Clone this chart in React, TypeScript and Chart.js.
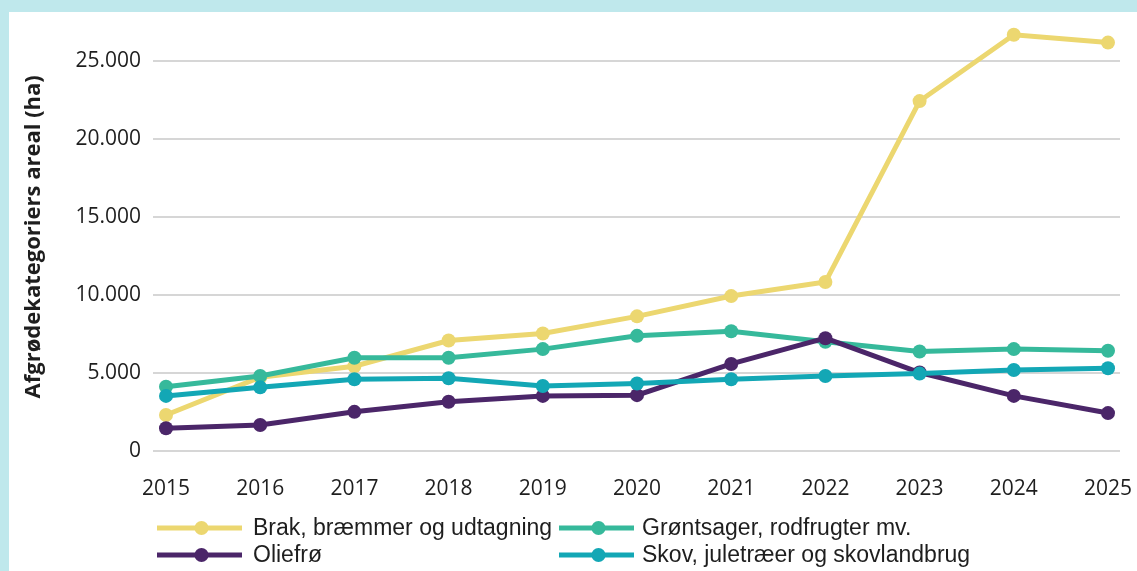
import React, { useEffect, useRef } from "react";
import { Chart, registerables } from "chart.js";

Chart.register(...registerables);

const years = [2015, 2016, 2017, 2018, 2019, 2020, 2021, 2022, 2023, 2024, 2025];
const brak = [2330, 4750, 5450, 7100, 7550, 8650, 9950, 10850, 22450, 26700, 26200];
const groentsager = [4140, 4830, 6000, 6000, 6550, 7400, 7700, 7020, 6400, 6550, 6450];
const oliefroe = [1480, 1690, 2530, 3180, 3550, 3600, 5600, 7250, 5050, 3550, 2450];
const skov = [3550, 4100, 4620, 4680, 4190, 4350, 4620, 4830, 4980, 5210, 5320];
const yTicks = [0, 5000, 10000, 15000, 20000, 25000];

const seriesNames = [
  "Brak, bræmmer og udtagning",
  "Grøntsager, rodfrugter mv.",
  "Oliefrø",
  "Skov, juletræer og skovlandbrug",
];
const seriesColors = ["#ecd770", "#36b99b", "#4b2669", "#13a7b5"];

const W = 1128;
const H = 559;

const fmt = (v: number) => String(v).replace(/\B(?=(\d{3})+(?!\d))/g, ".");

const legendPlugin = {
  id: "customLegend",
  afterDraw(chart: any) {
    const ctx = chart.ctx;
    const ds = chart.data.datasets;
    const cols = [
      { x0: 148, x1: 233, tx: 244 },
      { x0: 550, x1: 625, tx: 633 },
    ];
    const rows = [516, 543];
    const place = [
      [0, 0],
      [1, 0],
      [0, 1],
      [1, 1],
    ];
    ctx.save();
    ds.forEach((d: any, i: number) => {
      const c = cols[place[i][0]];
      const y = rows[place[i][1]];
      ctx.strokeStyle = d.borderColor;
      ctx.lineWidth = 5;
      ctx.lineCap = "butt";
      ctx.beginPath();
      ctx.moveTo(c.x0, y);
      ctx.lineTo(c.x1, y);
      ctx.stroke();
      ctx.fillStyle = d.borderColor;
      ctx.beginPath();
      ctx.arc((c.x0 + c.x1) / 2 + 2, y, 7, 0, Math.PI * 2);
      ctx.fill();
      ctx.fillStyle = "#1e1e1e";
      ctx.font = "23px 'Liberation Sans', Arial, sans-serif";
      ctx.textBaseline = "middle";
      ctx.textAlign = "left";
      ctx.fillText(d.label, c.tx, y + 1);
    });
    ctx.restore();
  },
};

export default function App() {
  const ref = useRef<HTMLCanvasElement | null>(null);

  useEffect(() => {
    if (!ref.current) return;
    const mk = (i: number, data: number[], order: number) => ({
      label: seriesNames[i],
      data: years.map((y, k) => ({ x: y, y: data[k] })),
      borderColor: seriesColors[i],
      backgroundColor: seriesColors[i],
      pointBackgroundColor: seriesColors[i],
      pointBorderColor: seriesColors[i],
      borderWidth: 5,
      pointRadius: 7,
      pointBorderWidth: 0,
      tension: 0,
      clip: false as any,
      order,
    });
    const chart = new Chart(ref.current, {
      type: "line",
      data: {
        datasets: [
          mk(0, brak, 4),
          mk(1, groentsager, 3),
          mk(2, oliefroe, 2),
          mk(3, skov, 1),
        ],
      },
      plugins: [legendPlugin],
      options: {
        animation: false,
        responsive: false,
        devicePixelRatio: 1,
        layout: { padding: { top: 10.3, right: 17, bottom: 50, left: 0 } },
        plugins: {
          legend: { display: false },
          tooltip: { enabled: false },
        },
        scales: {
          x: {
            type: "linear",
            min: 2015 - 13 / 94.2,
            max: 2025 + 12 / 94.2,
            afterBuildTicks: (s: any) => {
              s.ticks = years.map((v) => ({ value: v }));
            },
            afterFit: (s: any) => {
              s.height = 69.7;
              s.paddingLeft = 0;
              s.paddingRight = 0;
              s.paddingTop = 0;
              s.paddingBottom = 0;
            },
            grid: { display: false, drawTicks: false },
            border: { display: false },
            ticks: {
              autoSkip: false,
              maxRotation: 0,
              padding: 25,
              color: "#1e1e1e",
              font: { family: "'Open Sans', 'Noto Sans', sans-serif", size: 21 },
              callback: (v: any) => String(v),
            },
          },
          y: {
            min: 0,
            max: 27500,
            afterBuildTicks: (s: any) => {
              s.ticks = yTicks.map((v) => ({ value: v }));
            },
            afterFit: (s: any) => {
              s.width = 144;
              s.paddingLeft = 0;
              s.paddingRight = 0;
              s.paddingTop = 0;
              s.paddingBottom = 0;
            },
            grid: { color: "#d6d6d6", lineWidth: 2, drawTicks: false },
            border: { display: false },
            ticks: {
              padding: 12,
              color: "#1e1e1e",
              font: { family: "'Open Sans', 'Noto Sans', sans-serif", size: 21 },
              callback: (v: any) => fmt(Number(v)),
            },
            title: {
              display: true,
              text: "Afgrødekategoriers areal (ha)",
              color: "#1e1e1e",
              font: { family: "'Open Sans', 'Noto Sans', sans-serif", size: 22, weight: "bold" },
              padding: { top: 12, bottom: 0 },
            },
          },
        },
      },
    });
    return () => chart.destroy();
  }, []);

  return (
    <div
      style={{
        position: "fixed",
        left: 0,
        top: 0,
        width: 1137,
        height: 571,
        background: "#bfe8ec",
        overflow: "hidden",
      }}
    >
      <div
        style={{
          position: "absolute",
          left: 9,
          top: 12,
          width: W,
          height: H,
          background: "#ffffff",
        }}
      >
        <canvas ref={ref} width={W} height={H} style={{ width: W, height: H, display: "block" }} />
      </div>
    </div>
  );
}
